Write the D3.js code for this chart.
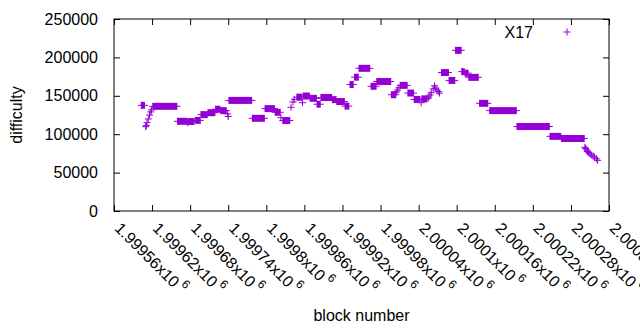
<!DOCTYPE html>
<html>
<head>
<meta charset="utf-8">
<script src="https://cdn.jsdelivr.net/npm/d3@7"></script>
<style>
  html, body { margin: 0; padding: 0; background: #fff; }
  svg { display: block; }
  text { font-family: "Liberation Sans", Arial, sans-serif; font-size: 16px; fill: #000; }
</style>
</head>
<body>
<svg id="chart" width="640" height="330"></svg>
<script>
// ---- data: runs of consecutive blocks sharing one difficulty (series "X17") ----
const blockStart = [
  1999603, 1999610, 1999611, 1999612, 1999614, 1999616, 1999618, 1999619,
  1999621, 1999660, 1999676, 1999677, 1999688, 1999697, 1999708, 1999720,
  1999728, 1999739, 1999740, 1999741, 1999778, 1999798, 1999814, 1999823,
  1999826, 1999839, 1999842, 1999844, 1999848, 1999857, 1999858, 1999869,
  1999880, 1999886, 1999904, 1999911, 1999924, 1999932, 1999939, 1999946,
  1999965, 1999974, 1999997, 2000005, 2000007, 2000009, 2000011, 2000023,
  2000033, 2000044, 2000045, 2000055, 2000056, 2000058, 2000060, 2000063,
  2000065, 2000067, 2000069, 2000071, 2000073, 2000076, 2000088, 2000098,
  2000108, 2000113, 2000119, 2000136, 2000152, 2000195, 2000247, 2000265,
  2000302, 2000303, 2000305, 2000306, 2000308, 2000310, 2000312, 2000315,
  2000317, 2000320, 2000322
];
const blockEnd = [
  1999608, 1999610, 1999611, 1999612, 1999614, 1999616, 1999618, 1999619,
  1999659, 1999675, 1999676, 1999686, 1999696, 1999707, 1999719, 1999727,
  1999737, 1999739, 1999740, 1999777, 1999797, 1999813, 1999822, 1999823,
  1999837, 1999839, 1999842, 1999844, 1999856, 1999857, 1999868, 1999879,
  1999885, 1999903, 1999910, 1999923, 1999930, 1999937, 1999945, 1999963,
  1999973, 1999996, 2000004, 2000005, 2000007, 2000009, 2000022, 2000032,
  2000042, 2000044, 2000053, 2000055, 2000056, 2000058, 2000060, 2000063,
  2000065, 2000067, 2000069, 2000071, 2000073, 2000087, 2000097, 2000107,
  2000112, 2000118, 2000134, 2000149, 2000194, 2000246, 2000264, 2000301,
  2000302, 2000303, 2000305, 2000306, 2000308, 2000310, 2000312, 2000315,
  2000317, 2000320, 2000322
];
const difficulty = [
  137600, 109800, 111500, 115000, 119800, 125000, 129000, 131500,
  136300, 116800, 115000, 116500, 118000, 125500, 128000, 132500,
  130700, 126500, 123000, 144000, 120700, 133300, 128500, 121500,
  117800, 135000, 142000, 145400, 148200, 141000, 149700, 146700,
  139000, 147800, 145000, 142500, 136600, 164700, 174200, 185800,
  162400, 168600, 151400, 155000, 157500, 160500, 163600, 153600,
  145300, 141000, 146000, 147000, 148500, 151000, 154000, 159000,
  163000, 160000, 157500, 155500, 153500, 180300, 170000, 209200,
  181500, 179500, 174000, 140200, 130700, 110000, 97200, 94400,
  83000, 81500, 79500, 77500, 76000, 74500, 73000, 71500,
  70000, 68000, 66000
];
const seriesName = "X17";
const xTickValues = [1999560, 1999620, 1999680, 1999740, 1999800, 1999860, 1999920,
                     1999980, 2000040, 2000100, 2000160, 2000220, 2000280, 2000340];
const xTickMantissa = ["1.99956", "1.99962", "1.99968", "1.99974", "1.9998", "1.99986", "1.99992",
                       "1.99998", "2.00004", "2.0001", "2.00016", "2.00022", "2.00028", "2.00034"];
const yTickValues = [0, 50000, 100000, 150000, 200000, 250000];
const xLabel = "block number";
const yLabel = "difficulty";

// ---- layout ----
const color = "#9400d3";
const L = 114, R = 609, T = 19, B = 211;
const svg = d3.select("#chart");

const x = d3.scaleLinear().domain([1999560, 2000340]).range([L, R]);
const y = d3.scaleLinear().domain([0, 250000]).range([B, T]);

// axes (ticks pointing inward, mirrored)
const tick = 6;
const gB = svg.append("g").attr("transform", `translate(0,${B})`)
  .call(d3.axisBottom(x).tickValues(xTickValues).tickSize(-tick).tickFormat(""));
const gT = svg.append("g").attr("transform", `translate(0,${T})`)
  .call(d3.axisTop(x).tickValues(xTickValues).tickSize(-tick).tickFormat(""));
const gL = svg.append("g").attr("transform", `translate(${L},0)`)
  .call(d3.axisLeft(y).tickValues(yTickValues).tickSize(-tick).tickPadding(10 + tick)
        .tickFormat(d3.format("d")));
const gR = svg.append("g").attr("transform", `translate(${R},0)`)
  .call(d3.axisRight(y).tickValues(yTickValues).tickSize(-tick).tickFormat(""));
[gB, gT, gL, gR].forEach(g => {
  g.select(".domain").remove();
  g.selectAll("line").attr("stroke", "#000").attr("stroke-width", 1);
});
gL.selectAll("text").attr("font-size", 16).attr("font-family", null).style("font-family", '"Liberation Sans", Arial, sans-serif');

// frame
svg.append("rect").attr("x", L).attr("y", T).attr("width", R - L).attr("height", B - T)
  .attr("fill", "none").attr("stroke", "#000").attr("stroke-width", 1);

// rotated x tick labels with "x10^6"
const xl = svg.append("g").selectAll("text").data(xTickValues).join("text")
  .attr("transform", d => `translate(${x(d) + 4},${B + 14}) rotate(45)`)
  .attr("dominant-baseline", "central");
xl.append("tspan").text((d, i) => xTickMantissa[i] + "x10");
xl.append("tspan").attr("dx", 3).attr("dy", -6).attr("font-size", 12).text("6");

// axis titles
svg.append("text").attr("x", (L + R) / 2).attr("y", 321).attr("text-anchor", "middle").text(xLabel);
svg.append("text").attr("transform", `translate(22,${(T + B) / 2}) rotate(-90)`)
  .attr("text-anchor", "middle").text(yLabel);

// points: "+" markers; a run of consecutive blocks merges into a filled band
const hs = 3.5;
const runs = blockStart.map((s, i) => ({ s, e: blockEnd[i], v: difficulty[i] }));
const pg = svg.append("g");
pg.selectAll("rect.v").data(runs).join("rect").attr("class", "v")
  .attr("x", d => x(d.s) - 0.5)
  .attr("width", d => x(d.e) - x(d.s) + 1)
  .attr("y", d => y(d.v) - hs)
  .attr("height", 2 * hs)
  .attr("fill", color);
pg.selectAll("line.h").data(runs).join("line").attr("class", "h")
  .attr("x1", d => x(d.s) - hs).attr("x2", d => x(d.e) + hs)
  .attr("y1", d => y(d.v)).attr("y2", d => y(d.v))
  .attr("stroke", color).attr("stroke-width", 1);

// legend
svg.append("text").attr("x", 533).attr("y", 32).attr("text-anchor", "end")
  .attr("dominant-baseline", "central").text(seriesName);
const lx = 567, ly = 32;
svg.append("path").attr("d", `M${lx - hs},${ly}H${lx + hs}M${lx},${ly - hs}V${ly + hs}`)
  .attr("stroke", color).attr("stroke-width", 1).attr("fill", "none");
</script>
</body>
</html>
